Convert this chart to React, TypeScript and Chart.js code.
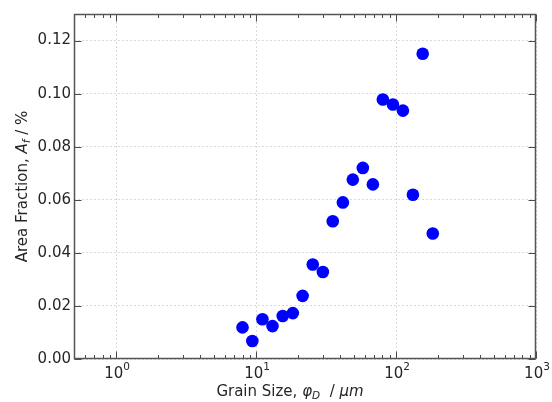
import React, { useEffect, useRef } from 'react';
import { Chart, registerables } from 'chart.js';

Chart.register(...registerables);

// ---- data ----
const grainSize = [8.0, 9.4, 11.1, 13.1, 15.5, 18.3, 21.5, 25.4, 30.0, 35.3, 41.7, 49.1, 57.9, 68.3, 80.5, 95.0, 112, 132, 155, 183];
const areaFraction = [0.0119, 0.0068, 0.0150, 0.0124, 0.0162, 0.0173, 0.0238, 0.0356, 0.0328, 0.0519, 0.0590, 0.0676, 0.0720, 0.0658, 0.0978, 0.0959, 0.0936, 0.0619, 0.1150, 0.0473];

const xTickValues = [1, 10, 100, 1000];
const xTickBase = '10';
const xTickExponents = ['0', '1', '2', '3'];
const yTickValues = [0, 0.02, 0.04, 0.06, 0.08, 0.10, 0.12];
const xMin = 0.5;
const xMax = 1000;
const yMin = 0;
const yMax = 0.13;

const FONT = "'DejaVu Sans', sans-serif";
const TEXT = '#262626';

function minorTicks(): number[] {
  const out: number[] = [];
  [0.1, 1, 10, 100].forEach((d) => {
    for (let k = 2; k <= 9; k++) {
      const v = k * d;
      if (v >= xMin && v <= xMax) out.push(v);
    }
  });
  return out;
}

type Run = { t: string; font: string; dy?: number };

function drawRuns(ctx: CanvasRenderingContext2D, runs: Run[], x: number, y: number) {
  let cx = x;
  runs.forEach((r) => {
    ctx.font = r.font;
    ctx.fillText(r.t, cx, y + (r.dy || 0));
    cx += ctx.measureText(r.t).width;
  });
}

function runsWidth(ctx: CanvasRenderingContext2D, runs: Run[]) {
  let w = 0;
  runs.forEach((r) => {
    ctx.font = r.font;
    w += ctx.measureText(r.t).width;
  });
  return w;
}

const framePlugin = {
  id: 'framePlugin',
  afterDraw(chart: any) {
    const { ctx, chartArea: a, scales } = chart;
    const xs = scales.x;
    const ys = scales.y;
    const L = Math.round(a.left) + 0.5;
    const R = Math.round(a.right) - 0.5;
    const T = Math.round(a.top) + 0.5;
    const B = Math.round(a.bottom) - 0.5;
    ctx.save();
    ctx.strokeStyle = '#4a4a4a';
    ctx.lineWidth = 1;
    // inward ticks
    ctx.beginPath();
    xTickValues.forEach((v) => {
      const p = Math.round(xs.getPixelForValue(v)) + 0.5;
      ctx.moveTo(p, B); ctx.lineTo(p, B - 7);
      ctx.moveTo(p, T); ctx.lineTo(p, T + 7);
    });
    minorTicks().forEach((v) => {
      const p = Math.round(xs.getPixelForValue(v)) + 0.5;
      ctx.moveTo(p, B); ctx.lineTo(p, B - 3.5);
      ctx.moveTo(p, T); ctx.lineTo(p, T + 3.5);
    });
    yTickValues.forEach((v) => {
      const p = Math.round(ys.getPixelForValue(v)) + 0.5;
      ctx.moveTo(L, p); ctx.lineTo(L + 7, p);
      ctx.moveTo(R, p); ctx.lineTo(R - 7, p);
    });
    ctx.stroke();
    // frame
    ctx.lineWidth = 1.5;
    ctx.strokeStyle = '#555';
    ctx.strokeRect(L, T, R - L, B - T);

    ctx.fillStyle = TEXT;
    ctx.textBaseline = 'alphabetic';
    ctx.textAlign = 'left';
    const n = `15px ${FONT}`;
    const it = `italic 15px ${FONT}`;
    const sub = `italic 10.5px ${FONT}`;
    const sup = `10.5px ${FONT}`;

    // x tick labels: 10^n
    xTickValues.forEach((v, i) => {
      const runs: Run[] = [
        { t: xTickBase, font: n },
        { t: xTickExponents[i], font: sup, dy: -8 },
      ];
      const w = runsWidth(ctx, runs);
      const p = xs.getPixelForValue(v);
      drawRuns(ctx, runs, p - w / 2 + 1, 378);
    });

    // axis titles
    const xRuns: Run[] = [
      { t: 'Grain Size, ', font: n },
      { t: 'φ', font: it },
      { t: 'D', font: sub, dy: 3 },
      { t: '  / ', font: n },
      { t: 'μm', font: it },
    ];
    const xw = runsWidth(ctx, xRuns);
    drawRuns(ctx, xRuns, 290 - xw / 2, 396);

    const yRuns: Run[] = [
      { t: 'Area Fraction, ', font: n },
      { t: 'A', font: it },
      { t: 'f', font: sub, dy: 3 },
      { t: ' / %', font: n },
    ];
    const yw = runsWidth(ctx, yRuns);
    ctx.translate(27, (a.top + a.bottom) / 2);
    ctx.rotate(-Math.PI / 2);
    drawRuns(ctx, yRuns, -yw / 2, 0);
    ctx.restore();
  },
};

export default function App() {
  const ref = useRef<HTMLCanvasElement | null>(null);

  useEffect(() => {
    if (!ref.current) return;
    const points = grainSize.map((x, i) => ({ x, y: areaFraction[i] }));
    const chart = new Chart(ref.current, {
      type: 'scatter',
      data: {
        datasets: [
          {
            data: points,
            backgroundColor: '#0000ff',
            borderColor: '#0000ff',
            borderWidth: 0,
            pointRadius: 6.3,
            pointHoverRadius: 6.3,
          },
        ],
      },
      options: {
        responsive: false,
        animation: false,
        events: [],
        layout: { padding: { top: 14, right: 16, left: 0, bottom: 0 } },
        plugins: { legend: { display: false }, tooltip: { enabled: false } },
        scales: {
          x: {
            type: 'logarithmic',
            min: xMin,
            max: xMax,
            afterBuildTicks: (s: any) => {
              s.ticks = xTickValues.map((v) => ({ value: v }));
            },
            afterFit: (s: any) => {
              s.height = 43;
            },
            ticks: {
              display: false,
              autoSkip: false,
              maxRotation: 0,
              minRotation: 0,
            },
            grid: {
              drawTicks: false,
              color: 'rgba(0,0,0,0.15)',
              lineWidth: 1,
            },
            border: { display: false, dash: [2, 2] },
          },
          y: {
            type: 'linear',
            min: yMin,
            max: yMax,
            afterBuildTicks: (s: any) => {
              s.ticks = yTickValues.map((v) => ({ value: v }));
            },
            afterFit: (s: any) => {
              s.width = 74;
            },
            ticks: {
              autoSkip: false,
              padding: 3,
              color: TEXT,
              font: { family: FONT, size: 15 },
              callback: (v: any) => Number(v).toFixed(2),
            },
            grid: {
              drawTicks: false,
              color: 'rgba(0,0,0,0.15)',
              lineWidth: 1,
            },
            border: { display: false, dash: [2, 2] },
          },
        },
      },
      plugins: [framePlugin],
    });
    return () => chart.destroy();
  }, []);

  return (
    <div style={{ position: 'absolute', left: 0, top: 0, width: 552, height: 402, background: '#fff' }}>
      <canvas ref={ref} width={552} height={402} />
    </div>
  );
}
